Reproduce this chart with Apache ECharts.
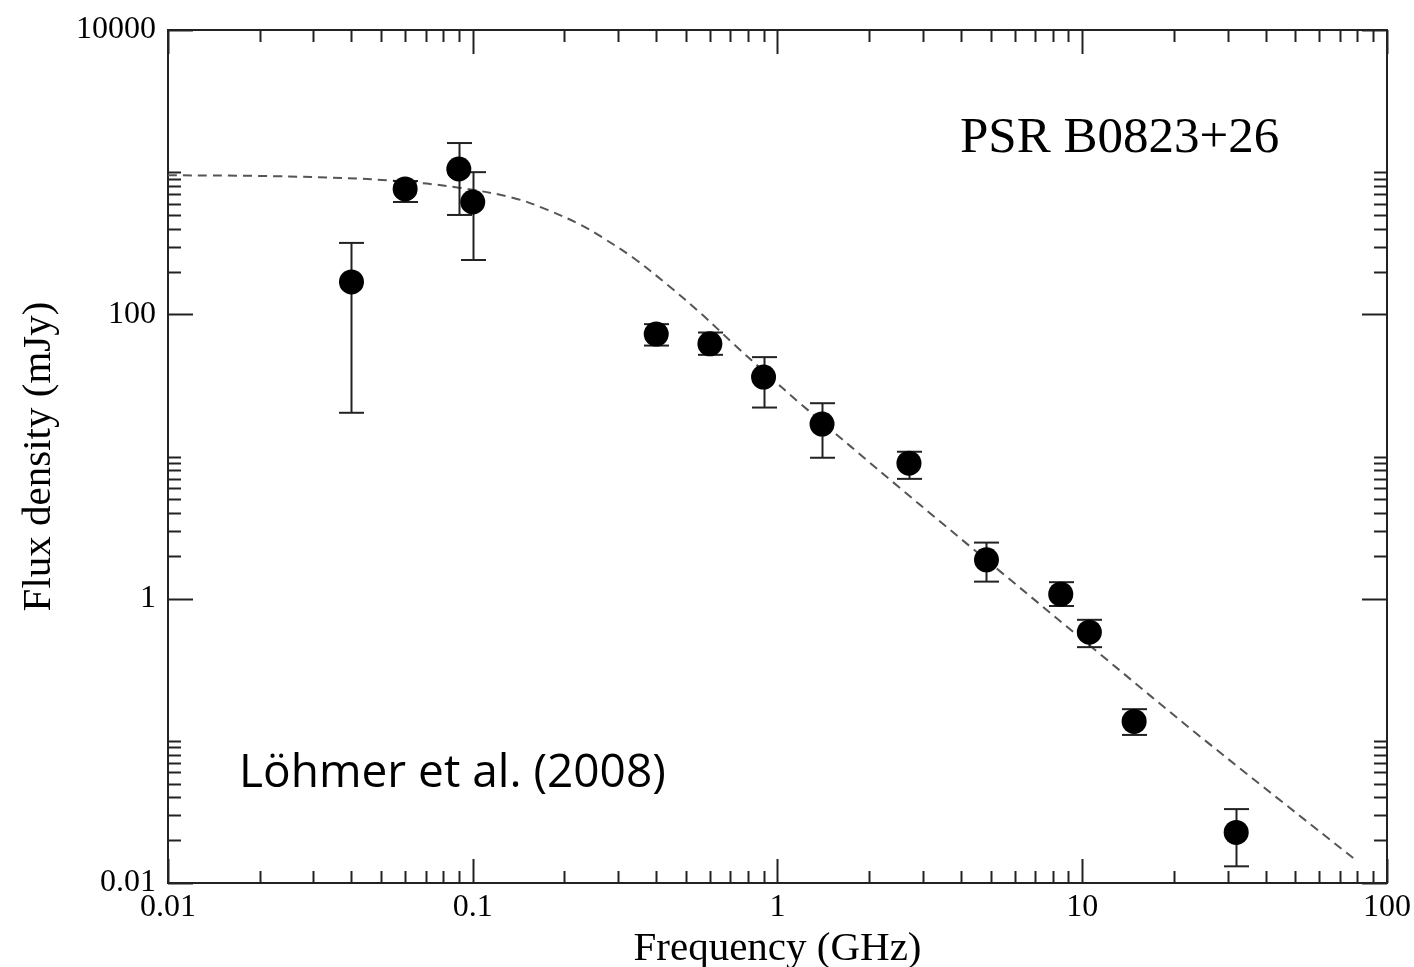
<!DOCTYPE html>
<html>
<head>
<meta charset="utf-8">
<script src="https://cdn.jsdelivr.net/npm/echarts@6/dist/echarts.min.js"></script>
<style>
html,body{margin:0;padding:0;background:#fff;}
#chart{width:1414px;height:967px;}
</style>
</head>
<body>
<div id="chart"></div>
<script>
// Measured data points (frequency in GHz, flux density in mJy)
const freq    = [0.04, 0.06, 0.09, 0.1, 0.4, 0.6, 0.9, 1.4, 2.7, 4.85, 8.5, 10.55, 14.8, 32];
const flux    = [169, 762, 1053, 617, 72.6, 62.0, 36.2, 16.9, 8.98, 1.875, 1.076, 0.581, 0.137, 0.0227];
const errLow  = [20.3, 617, 500, 241, 60.3, 51.9, 22.1, 9.8, 6.96, 1.318, 0.888, 0.456, 0.110, 0.0131];
const errHigh = [318, 867, 1603, 1000, 85.3, 74.5, 50.0, 23.7, 10.8, 2.48, 1.306, 0.71, 0.167, 0.0331];

// Dashed fit curve
const fitFreq = [0.01, 0.025, 0.055, 0.091, 0.136, 0.176, 0.226, 0.263, 0.337, 0.436, 0.559, 0.717, 0.92, 1.19, 2.53, 5.39, 11.5, 24.4, 80];
const fitFlux = [950, 933, 872, 775, 659, 543, 426, 353, 249, 161, 102, 62.0, 38.2, 23.5, 5.97, 1.55, 0.404, 0.107, 0.0142];

// Axis ticks and labels
const xTickLabels = [0.01, 0.1, 1, 10, 100];
const yTickLabels = [0.01, 1, 100, 10000];
const xMajorTicks = [0.01, 0.1, 1, 10, 100];
const xMinorTicks = [0.02,0.03,0.04,0.05,0.06,0.07,0.08,0.09,
                     0.2,0.3,0.4,0.5,0.6,0.7,0.8,0.9,
                     2,3,4,5,6,7,8,9,
                     20,30,40,50,60,70,80,90];
const yMajorTicks = [0.01, 1, 100, 10000];
const yMinorTicks = [0.02,0.03,0.04,0.05,0.06,0.07,0.08,0.09,0.1,
                     2,3,4,5,6,7,8,9,10,
                     200,300,400,500,600,700,800,900,1000];

const xLabel = 'Frequency (GHz)';
const yLabel = 'Flux density (mJy)';
const pulsarName = 'PSR B0823+26';
const reference = 'Löhmer et al. (2008)';

const AX = '#222';
const serif = '"Liberation Serif", "Times New Roman", serif';

function matchLabel(v, list){
  for (const l of list){ if (Math.abs(Math.log10(v) - Math.log10(l)) < 1e-6) return String(l); }
  return '';
}

function tickSeries(values, isX, len){
  return {
    type: 'custom',
    silent: true,
    clip: false,
    z: 5,
    data: values.map(v => isX ? [v, 1] : [1, v]),
    encode: {x: 0, y: 1},
    renderItem: function(params, api){
      const cs = params.coordSys;
      const p = api.coord([api.value(0), api.value(1)]);
      const st = {stroke: AX, lineWidth: 2};
      if (isX){
        const x = Math.round(p[0]) + 0.5;
        const b = cs.y + cs.height, t = cs.y;
        return {type:'group', children:[
          {type:'line', shape:{x1:x,y1:b,x2:x,y2:b-len}, style:st},
          {type:'line', shape:{x1:x,y1:t,x2:x,y2:t+len}, style:st}
        ]};
      } else {
        const y = Math.round(p[1]) + 0.5;
        const l = cs.x, r = cs.x + cs.width;
        return {type:'group', children:[
          {type:'line', shape:{x1:l,y1:y,x2:l+len,y2:y}, style:st},
          {type:'line', shape:{x1:r,y1:y,x2:r-len,y2:y}, style:st}
        ]};
      }
    }
  };
}

const chart = echarts.init(document.getElementById('chart'));
const option = {
  backgroundColor: '#fff',
  animation: false,
  grid: {left: 168, top: 30, width: 1219, height: 853, outerBoundsMode: 'none', containLabel: false,
         show: true, borderColor: AX, borderWidth: 2, backgroundColor: 'transparent'},
  xAxis: {
    type: 'log', logBase: 10, min: 0.01, max: 100,
    name: xLabel, nameLocation: 'middle', nameGap: 42,
    nameTextStyle: {fontFamily: serif, fontSize: 41, color: '#000'},
    axisLine: {show: false}, axisTick: {show: false}, splitLine: {show: false},
    axisLabel: {fontFamily: serif, fontSize: 32, color: '#000', margin: 9, showMinLabel: true, showMaxLabel: true,
      formatter: v => matchLabel(v, xTickLabels)}
  },
  yAxis: {
    type: 'log', logBase: 10, min: 0.01, max: 10000,
    name: yLabel, nameLocation: 'middle', nameGap: 108,
    nameTextStyle: {fontFamily: serif, fontSize: 41, color: '#000'},
    axisLine: {show: false}, axisTick: {show: false}, splitLine: {show: false},
    axisLabel: {fontFamily: serif, fontSize: 32, color: '#000', margin: 12, showMinLabel: true, showMaxLabel: true,
      formatter: v => matchLabel(v, yTickLabels)}
  },
  graphic: [
    {type: 'text', left: 960, top: 113, z: 10,
     style: {text: pulsarName, font: '51px ' + serif, fill: '#000'}},
    {type: 'text', left: 239, top: 751, z: 10,
     style: {text: reference, font: '46px "Open Sans", Lato, sans-serif', fill: '#000'}}
  ],
  series: [
    tickSeries(xMajorTicks, true, 24),
    tickSeries(xMinorTicks, true, 12),
    tickSeries(yMajorTicks, false, 25),
    tickSeries(yMinorTicks, false, 13),
    {
      type: 'line', name: 'fit',
      data: fitFreq.map((f, i) => [f, fitFlux[i]]),
      smooth: 0.35, showSymbol: false, symbol: 'none', z: 3,
      lineStyle: {color: '#555', width: 2, type: [9, 6]}
    },
    {
      type: 'custom', name: 'errors', z: 4,
      data: freq.map((f, i) => [f, errLow[i], errHigh[i]]),
      encode: {x: 0, y: [1, 2]},
      renderItem: function(params, api){
        const lo = api.coord([api.value(0), api.value(1)]);
        const hi = api.coord([api.value(0), api.value(2)]);
        const x = Math.round(lo[0]) + 0.5;
        const w = 12.5;
        const st = {stroke: AX, lineWidth: 2};
        return {type: 'group', children: [
          {type:'line', shape:{x1:x,y1:lo[1],x2:x,y2:hi[1]}, style:st},
          {type:'line', shape:{x1:x-w,y1:lo[1],x2:x+w,y2:lo[1]}, style:st},
          {type:'line', shape:{x1:x-w,y1:hi[1],x2:x+w,y2:hi[1]}, style:st}
        ]};
      }
    },
    {
      type: 'scatter', name: 'data', z: 6,
      data: freq.map((f, i) => [f, flux[i]]),
      symbol: 'circle', symbolSize: 25,
      itemStyle: {color: '#000', opacity: 1}
    }
  ]
};
chart.setOption(option);
</script>
</body>
</html>
